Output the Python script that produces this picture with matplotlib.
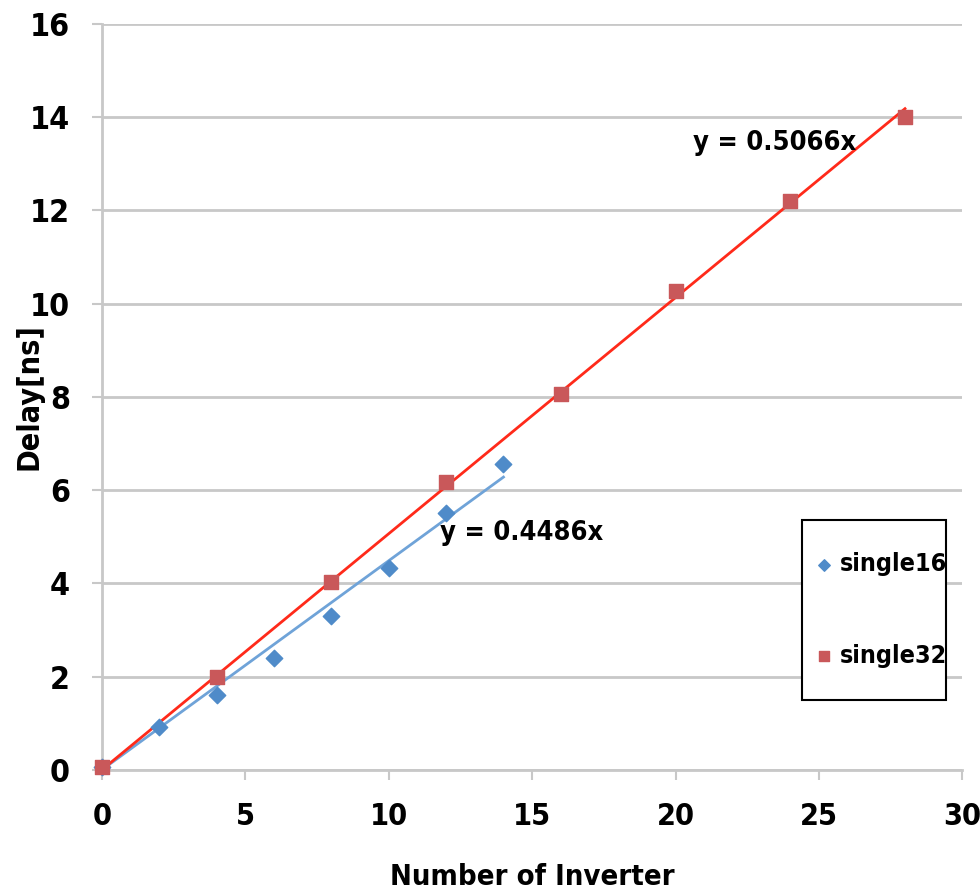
import numpy as np
import matplotlib.pyplot as plt
from matplotlib.patches import Rectangle

# inverter chain delay measurements
n16 = [0, 2, 4, 6, 8, 10, 12, 14]
d16 = [0.05, 0.92, 1.6, 2.4, 3.3, 4.33, 5.5, 6.57]
n32 = [0, 4, 8, 12, 16, 20, 24, 28]
d32 = [0.05, 2.0, 4.03, 6.18, 8.07, 10.28, 12.2, 14.0]
slope16 = 0.4486
slope32 = 0.5066

plt.rcParams['font.family'] = ['DejaVu Sans']
plt.rcParams['font.stretch'] = 'condensed'
plt.rcParams['font.weight'] = 'bold'
plt.rcParams['axes.labelweight'] = 'bold'

fig = plt.figure(figsize=(9.8, 8.91), dpi=100)
ax = fig.add_axes([0.104, 0.136, 0.878, 0.837])

grid_c = '#c8c8c8'
ax.set_xlim(0, 30)
ax.set_ylim(0, 16)
ax.set_yticks(np.arange(0, 17, 2))
ax.set_xticks(np.arange(0, 31, 5))
ax.yaxis.grid(True, color=grid_c, lw=2)
ax.set_axisbelow(True)
for s in ['top', 'right']:
    ax.spines[s].set_visible(False)
for s in ['left', 'bottom']:
    ax.spines[s].set_color(grid_c)
    ax.spines[s].set_linewidth(2)
ax.tick_params(axis='both', colors=grid_c, width=1.5, length=7, labelcolor='black')
ax.tick_params(axis='y', pad=16, labelsize=23)
ax.tick_params(axis='x', pad=16, labelsize=22)

# linear fits through origin
x16 = np.array([0, max(n16)])
x32 = np.array([0, max(n32)])
ax.plot(x16, slope16 * x16, color='#6fa3d8', lw=2, zorder=2)
ax.plot(x32, slope32 * x32, color='#ff2a1a', lw=2, zorder=2)

ax.scatter(n16, d16, marker='D', s=70, color='#4f8bc9', label='single16', zorder=3, clip_on=False)
ax.scatter(n32, d32, marker='s', s=110, color='#c9585a', label='single32', zorder=3, clip_on=False)

ax.text(20.6, 13.45, 'y = %.4fx' % slope32, fontsize=19.5, va='center', ha='left')
ax.text(11.8, 5.08, 'y = %.4fx' % slope16, fontsize=19.5, va='center', ha='left')

ax.set_xlabel('Number of Inverter', fontsize=21)
ax.set_ylabel('Delay[ns]', fontsize=22)
ax.xaxis.set_label_coords(0.5, -0.125)
ax.yaxis.set_label_coords(-0.068, 0.5)

# legend box drawn separately so its padding can be set freely
box = Rectangle((0.814, 0.094), 0.167, 0.241, transform=ax.transAxes, facecolor='white',
                edgecolor='black', lw=1.5, zorder=4, clip_on=False)
ax.add_patch(box)
leg = ax.legend(loc='center left', bbox_to_anchor=(0.814, 0.2145), fontsize=18,
                frameon=False, handletextpad=0.4, labelspacing=2.7, borderpad=0.6,
                borderaxespad=0, markerscale=0.7, handlelength=0.5)
leg.set_zorder(5)

fig.savefig('out.png', dpi=100)
